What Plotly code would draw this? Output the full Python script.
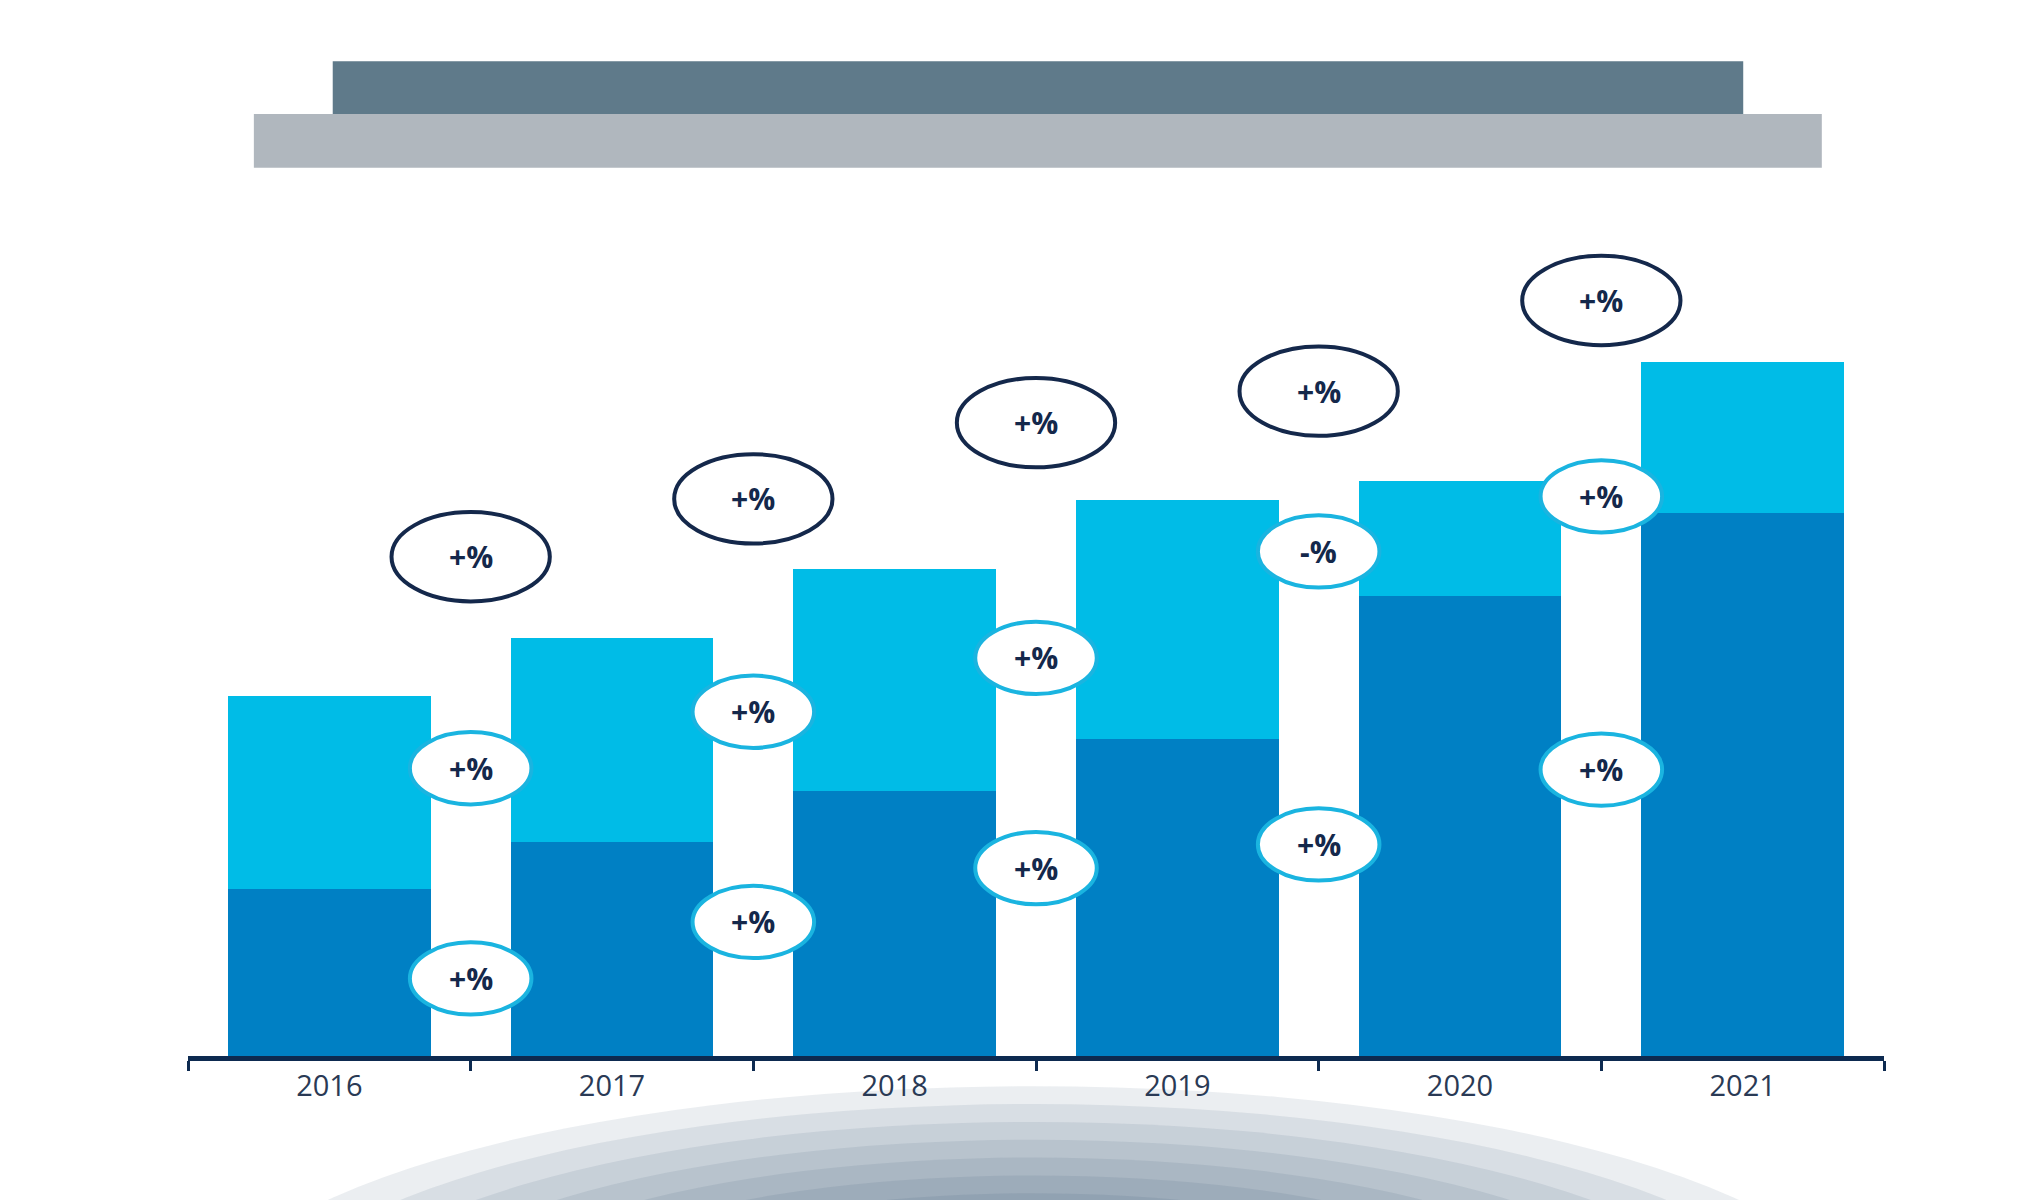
import plotly.graph_objects as go

years = ["2016", "2017", "2018", "2019", "2020", "2021"]
lower = [127, 163, 202, 241, 350, 413]
upper = [147, 155, 169, 182, 88, 115]

# growth bubbles between the years: (label, y) for total, upper part, lower part
total_lbl = ["+%", "+%", "+%", "+%", "+%"]
total_y = [380, 424, 482, 506, 575]
upper_lbl = ["+%", "+%", "+%", "-%", "+%"]
upper_y = [219, 262, 303, 384, 426]
lower_lbl = ["+%", "+%", "+%", "+%", "+%"]
lower_y = [59, 102, 143, 161, 218]

NAVY = "#14284b"
x = list(range(len(years)))

fig = go.Figure()
fig.add_bar(x=x, y=lower, marker_color="#0080c4", width=0.716, marker_line_width=0)
fig.add_bar(x=x, y=upper, marker_color="#00bce7", width=0.716, marker_line_width=0)

shapes = []
# soft glow below the axis
for i in range(14):
    k = 1 - i / 14
    shapes.append(dict(type="circle", xref="paper", yref="paper", layer="below",
                       x0=(780 - 640 * k - 137) / 1290, x1=(780 + 640 * k - 137) / 1290,
                       y0=(797 - 1010 - 190 * k) / 790, y1=(797 - 1010 + 190 * k) / 790,
                       fillcolor="#1f3f66", opacity=0.09, line_width=0))
# header bars
shapes.append(dict(type="rect", xref="x", yref="y", x0=-0.267, x1=5.28, y0=676, y1=717,
                   fillcolor="#b0b7be", line_width=0))
shapes.append(dict(type="rect", xref="x", yref="y", x0=0.012, x1=5.002, y0=717, y1=757,
                   fillcolor="#5f7a8a", line_width=0))

annotations = []
def bubble(xc, yc, text, w, h, color, width):
    shapes.append(dict(type="circle", xref="x", yref="y", x0=xc - w / 2, x1=xc + w / 2,
                       y0=yc - h / 2, y1=yc + h / 2, fillcolor="white",
                       line=dict(color=color, width=width)))
    annotations.append(dict(x=xc, y=yc, xref="x", yref="y", text="<b>%s</b>" % text,
                            showarrow=False, font=dict(size=30, color=NAVY, family="Open Sans")))

for i in range(5):
    xb = i + 0.5
    bubble(xb, total_y[i], total_lbl[i], 0.56, 68, NAVY, 4)
    bubble(xb, upper_y[i], upper_lbl[i], 0.43, 55, "#1ab4e0", 4)
    bubble(xb, lower_y[i], lower_lbl[i], 0.43, 55, "#1ab4e0", 4)

fig.update_layout(
    width=2040, height=1200, barmode="stack", showlegend=False,
    plot_bgcolor="white", paper_bgcolor="white",
    margin=dict(l=180, r=164, t=10, b=152),
    shapes=shapes, annotations=annotations,
    xaxis=dict(range=[-0.5, 5.5], tickvals=x, ticktext=years, ticks="", showgrid=False,
               showline=True, linewidth=5, linecolor="#0d2a50", zeroline=False,
               tickfont=dict(size=29, color="#2a3a55", family="Open Sans"),
               minor=dict(tickvals=[-0.5, 0.5, 1.5, 2.5, 3.5, 4.5, 5.5], ticks="outside",
                          ticklen=10, tickwidth=3, tickcolor="#0d2a50")),
    yaxis=dict(range=[0, 790], visible=False, showgrid=False),
)
fig.write_html("out.html")
